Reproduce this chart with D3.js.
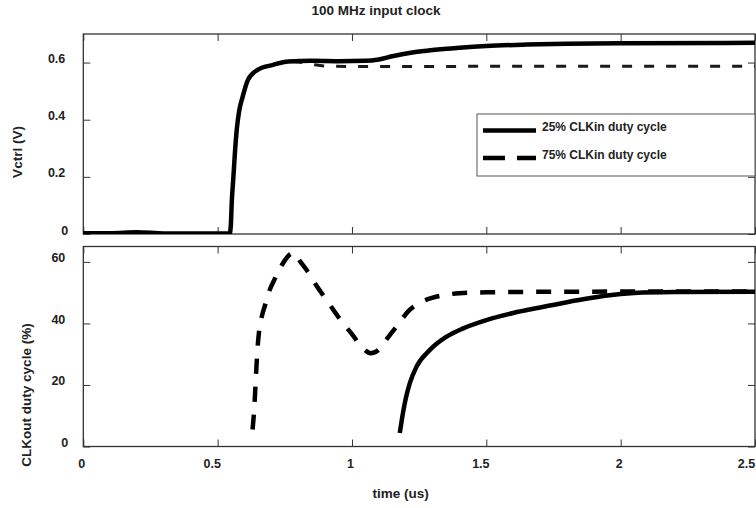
<!DOCTYPE html>
<html>
<head>
<meta charset="utf-8">
<script src="https://cdn.jsdelivr.net/npm/d3@7"></script>
<style>
  html, body { margin: 0; padding: 0; background: #fff; }
  svg text { font-family: "Liberation Sans", Arial, Helvetica, sans-serif; font-weight: bold; fill: #222; }
</style>
</head>
<body>
<svg id="chart" width="756" height="508"></svg>
<script>
// ---- data ----
// Control voltage, 25% input duty cycle
const vctrlTime25 = [0, 0.1, 0.2, 0.3, 0.4, 0.5, 0.545, 0.549, 0.553, 0.558, 0.564, 0.571, 0.58, 0.593, 0.613, 0.65, 0.706, 0.762, 0.85, 0.95, 1.05, 1.1, 1.15, 1.23, 1.3, 1.4, 1.5, 1.65, 1.8, 2.0, 2.5];
const vctrl25     = [0.003, 0.003, 0.006, 0.002, 0.002, 0.002, 0.002, 0.03, 0.12, 0.19, 0.28, 0.364, 0.43, 0.48, 0.54, 0.575, 0.592, 0.604, 0.606, 0.605, 0.606, 0.611, 0.622, 0.636, 0.644, 0.652, 0.658, 0.663, 0.666, 0.668, 0.669];
// Control voltage, 75% input duty cycle
const vctrlTime75 = [0, 0.5, 0.545, 0.549, 0.553, 0.558, 0.564, 0.571, 0.58, 0.593, 0.613, 0.65, 0.706, 0.762, 0.8, 0.85, 0.9, 1.0, 1.2, 1.5, 2.0, 2.5];
const vctrl75     = [0.003, 0.002, 0.002, 0.03, 0.12, 0.19, 0.28, 0.364, 0.43, 0.48, 0.54, 0.575, 0.592, 0.604, 0.602, 0.594, 0.588, 0.586, 0.586, 0.587, 0.587, 0.587];
// Output duty cycle, 25% input duty cycle
const dutyTime25 = [1.178, 1.19, 1.2, 1.215, 1.24, 1.29, 1.352, 1.414, 1.5, 1.6, 1.7, 1.8, 1.9, 1.95, 2.05, 2.2, 2.5];
const duty25     = [4.4, 11, 15.5, 20.5, 25.9, 31.4, 35.7, 38.4, 41.1, 43.4, 45.2, 46.9, 48.4, 49.1, 49.9, 50.2, 50.3];
// Output duty cycle, 75% input duty cycle
const dutyTime75 = [0.630, 0.636, 0.641, 0.647, 0.655, 0.665, 0.675, 0.69, 0.71, 0.73, 0.75, 0.77, 0.785, 0.80, 0.83, 0.87, 0.91, 0.95, 1.00, 1.04, 1.07, 1.10, 1.13, 1.17, 1.21, 1.26, 1.33, 1.40, 1.5, 1.8, 2.5];
const duty75     = [5.5, 12, 20, 30, 38, 42.5, 45.5, 50, 54, 57.5, 60.5, 62.5, 63, 61, 57.5, 52, 47, 42, 36.5, 32, 30.3, 31.5, 35, 39.5, 44, 47, 49, 49.8, 50.1, 50.3, 50.4];

const timeTicks = [0, 0.5, 1, 1.5, 2, 2.5];
const vctrlTicks = [0, 0.2, 0.4, 0.6];
const dutyTicks = [0, 20, 40, 60];
const legendLabels = ["25% CLKin duty cycle", "75% CLKin duty cycle"];

const titleText = "100 MHz input clock";
const xTitle = "time (us)";
const yTitleTop = "Vctrl (V)";
const yTitleBot = "CLKout duty cycle (%)";

// ---- layout ----
const svg = d3.select("#chart");
const x = d3.scaleLinear().domain([0, 2.5]).range([83.3, 755]);
const yTop = d3.scaleLinear().domain([0, 0.7]).range([234, 34]);
const yBot = d3.scaleLinear().domain([0, 65]).range([446.5, 246.5]);
const fmt = d3.format("");
const frameColor = "#333";

// horizontal nudge for time labels so the last one stays on the page
function xLabelShift(d) {
  if (d === 2.5) return -9;
  return fmt(d).length === 1 ? -2 : -6;
}

function drawPanel(y, yTicks, id, showXLabels) {
  const [x0, x1] = x.range();
  const [yb, yt] = y.range();

  svg.append("clipPath").attr("id", id)
    .append("rect").attr("x", x0).attr("y", yt).attr("width", x1 - x0).attr("height", yb - yt);

  const g = svg.append("g");

  // left axis with labels, ticks pointing inward
  const left = g.append("g")
    .attr("transform", `translate(${x0},0)`)
    .call(d3.axisLeft(y).tickValues(yTicks).tickSize(-7).tickPadding(18).tickFormat(fmt));
  left.select(".domain").remove();
  left.attr("color", frameColor).attr("font-size", 12.5).attr("font-family", null);
  left.selectAll("text").attr("dy", "0").attr("dx", d => fmt(d).length === 1 ? 3 : 0);

  // right axis, ticks only
  const right = g.append("g")
    .attr("transform", `translate(${x1},0)`)
    .call(d3.axisRight(y).tickValues(yTicks).tickSize(-7).tickFormat(""));
  right.select(".domain").remove();
  right.attr("color", frameColor);

  // top axis, ticks only
  const top = g.append("g")
    .attr("transform", `translate(0,${yt})`)
    .call(d3.axisTop(x).tickValues(timeTicks).tickSize(-7).tickFormat(""));
  top.select(".domain").remove();
  top.attr("color", frameColor);

  // bottom axis
  const bottom = g.append("g")
    .attr("transform", `translate(0,${yb})`)
    .call(d3.axisBottom(x).tickValues(timeTicks).tickSize(-7).tickPadding(0)
      .tickFormat(showXLabels ? fmt : ""));
  bottom.select(".domain").remove();
  bottom.attr("color", frameColor).attr("font-size", 12.5).attr("font-family", null);
  bottom.selectAll("text").attr("y", 21.5).attr("dy", "0").attr("dx", xLabelShift);

  // frame
  g.append("rect")
    .attr("x", x0).attr("y", yt).attr("width", x1 - x0).attr("height", yb - yt)
    .attr("fill", "none").attr("stroke", frameColor).attr("stroke-width", 1.3);

  return g;
}

drawPanel(yTop, vctrlTicks, "clipTop", false);
drawPanel(yBot, dutyTicks, "clipBot", true);

function lineFor(y) {
  return d3.line().x(d => x(d[0])).y(d => y(d[1])).curve(d3.curveMonotoneX);
}

// upper panel: control voltage
const topLines = svg.append("g").attr("clip-path", "url(#clipTop)");
topLines.append("path")
  .datum(d3.zip(vctrlTime75, vctrl75))
  .attr("d", lineFor(yTop))
  .attr("fill", "none").attr("stroke", "#1a1a1a").attr("stroke-width", 3)
  .attr("stroke-dasharray", "10,12");
topLines.append("path")
  .datum(d3.zip(vctrlTime25, vctrl25))
  .attr("d", lineFor(yTop))
  .attr("fill", "none").attr("stroke", "#000").attr("stroke-width", 4.5)
  .attr("stroke-linejoin", "round");

// lower panel: output duty cycle
const botLines = svg.append("g").attr("clip-path", "url(#clipBot)");
botLines.append("path")
  .datum(d3.zip(dutyTime75, duty75))
  .attr("d", lineFor(yBot))
  .attr("fill", "none").attr("stroke", "#000").attr("stroke-width", 4.5)
  .attr("stroke-dasharray", "15,13");
botLines.append("path")
  .datum(d3.zip(dutyTime25, duty25))
  .attr("d", lineFor(yBot))
  .attr("fill", "none").attr("stroke", "#000").attr("stroke-width", 4.5)
  .attr("stroke-linejoin", "round");

// legend
const legend = svg.append("g").attr("transform", "translate(477,114)");
legend.append("rect")
  .attr("width", 278).attr("height", 62)
  .attr("fill", "#fff").attr("stroke", "#555").attr("stroke-width", 1);
const dashes = [null, "22,12"];
legendLabels.forEach((label, i) => {
  const yy = 16.5 + i * 27.5;
  legend.append("line")
    .attr("x1", 6).attr("x2", 59).attr("y1", yy).attr("y2", yy)
    .attr("stroke", "#000").attr("stroke-width", 4.5)
    .attr("stroke-dasharray", dashes[i]);
  legend.append("text")
    .attr("x", 65).attr("y", yy + 0.5)
    .attr("font-size", 12)
    .text(label);
});

// titles
svg.append("text").attr("x", 376).attr("y", 15).attr("text-anchor", "middle")
  .attr("font-size", 13.5).text(titleText);
svg.append("text").attr("x", 400.7).attr("y", 498).attr("text-anchor", "middle")
  .attr("font-size", 13.5).text(xTitle);
svg.append("text").attr("transform", "translate(22,152) rotate(-90)").attr("text-anchor", "middle")
  .attr("font-size", 13.5).text(yTitleTop);
svg.append("text").attr("transform", "translate(31,395) rotate(-90)").attr("text-anchor", "middle")
  .attr("font-size", 13.5).text(yTitleBot);
</script>
</body>
</html>
